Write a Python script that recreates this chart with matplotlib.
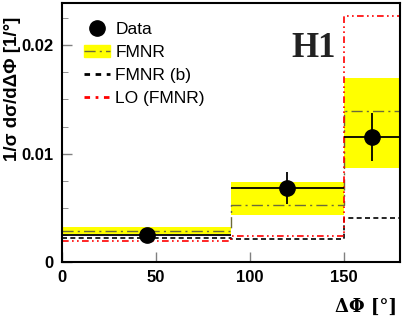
import numpy as np
import matplotlib.pyplot as plt
from matplotlib.patches import Patch
from matplotlib.lines import Line2D

# bins in delta phi
edges = [0, 90, 150, 180]
centers = [45, 120, 165]
data = [0.00246, 0.00684, 0.01154]
data_err = [0.0003, 0.0015, 0.0022]

fmnr = [0.00288, 0.0053, 0.0139]
fmnr_lo = [0.0026, 0.0043, 0.0087]
fmnr_hi = [0.0032, 0.0074, 0.0170]
fmnr_b = [0.00224, 0.00209, 0.00405]
lo_fmnr = [0.0019, 0.00237, 0.0227]

plt.rcParams['font.family'] = ['Liberation Sans', 'DejaVu Sans']

fig = plt.figure(figsize=(4.03, 3.16), dpi=100)
ax = fig.add_axes([62/403, 1 - 262/316, 338/403, 259/316])

def stepvals(v):
    return list(v) + [v[-1]]

# FMNR uncertainty band
for i in range(3):
    ax.fill_between([edges[i], edges[i+1]], fmnr_lo[i], fmnr_hi[i],
                    color='yellow', lw=0, zorder=1)

ax.step(edges, stepvals(fmnr), where='post', color='#6b6b3a', lw=1,
        ls=(0, (8, 3, 1.5, 3)), zorder=2)
ax.step(edges, stepvals(fmnr_b), where='post', color='black', lw=1.2,
        ls=(0, (3, 2)), zorder=2)
ax.step(edges, stepvals(lo_fmnr), where='post', color='red', lw=1.2,
        ls=(0, (4, 2, 1, 2, 1, 2)), zorder=2)

xerr = [[c - edges[i] for i, c in enumerate(centers)],
        [edges[i+1] - c for i, c in enumerate(centers)]]
ax.errorbar(centers, data, yerr=data_err, xerr=xerr, fmt='o', color='black',
            ms=11, lw=1.3, capsize=0, zorder=5)

ax.set_xlim(0, 180)
ax.set_ylim(0, 0.0239)
ax.set_xticks([0, 50, 100, 150])
ax.set_yticks([0, 0.01, 0.02])
ax.set_yticklabels(['0', '0.01', '0.02'])
ax.set_yticks(np.arange(0, 0.024, 0.0025), minor=True)
ax.tick_params(direction='in', color='grey', length=7, width=1,
               labelsize=12, pad=6)
ax.tick_params(axis='y', which='minor', direction='in', color='grey', length=4)
for lab in ax.get_xticklabels() + ax.get_yticklabels():
    lab.set_fontweight('bold')
for s in ax.spines.values():
    s.set_linewidth(1.5)

ax.set_ylabel('1/σ dσ/dΔΦ [1/°]', fontsize=13.5, fontweight='bold')
ax.yaxis.set_label_coords(-0.12, 0.668)
ax.set_xlabel('ΔΦ [°]', fontsize=13, fontweight='bold', family='DejaVu Serif')
ax.xaxis.set_label_coords(0.9, -0.14)

ax.text(0.68, 0.79, 'H1', transform=ax.transAxes, fontsize=25,
        fontweight='bold', family='Liberation Serif', color='#222222')

handles = [
    Line2D([], [], marker='o', color='black', ls='none', ms=11),
    (Patch(color='yellow'), Line2D([], [], color='#6b6b3a', lw=1, ls=(0, (8, 3, 1.5, 3)))),
    Line2D([], [], color='black', lw=2, ls=(0, (2, 2))),
    Line2D([], [], color='red', lw=2, ls=(0, (2, 2, 1, 2))),
]
ax.legend(handles, ['Data', 'FMNR', 'FMNR (b)', 'LO (FMNR)'],
          loc='upper left', bbox_to_anchor=(0.045, 0.955), frameon=False,
          fontsize=12.5, handlelength=1.5, handletextpad=0.3, labelspacing=0.45,
          borderaxespad=0)

fig.savefig('out.png', dpi=100)
